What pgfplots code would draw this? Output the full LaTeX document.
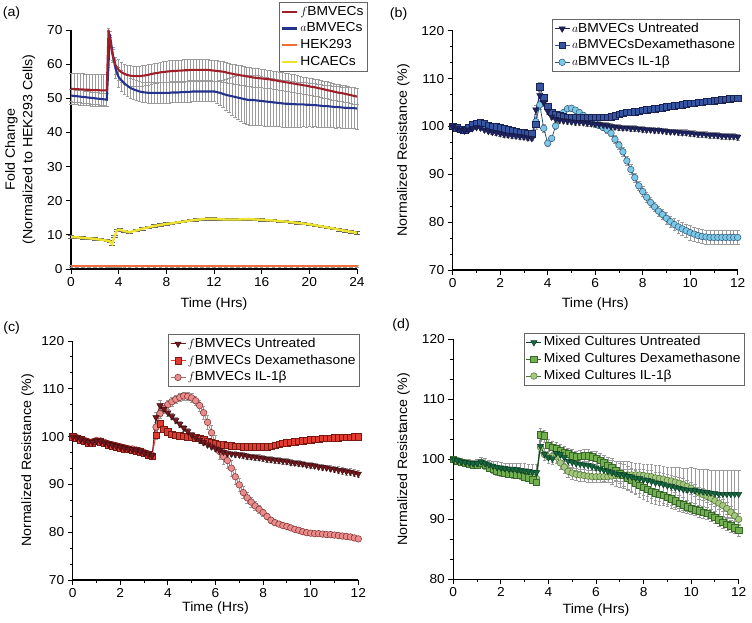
\documentclass[border=0pt]{standalone}
\usepackage{pgfplots}
\pgfplotsset{compat=1.18}
\usepackage{pgfplotstable}
\usepackage{fontspec}
\setmainfont{Liberation Sans}[FakeStretch=1.06]
\newcommand\fnt{\fontsize{13}{15}\selectfont}
\newcommand\lfnt{\fontsize{13.5}{15}\selectfont}
\newcommand\gfnt{\fontsize{13.1}{15}\selectfont}

\definecolor{fcol}{RGB}{160,30,40}
\definecolor{acol}{RGB}{35,50,140}
\definecolor{orng}{RGB}{240,110,60}
\definecolor{hcacol}{RGB}{238,226,50}
\definecolor{errg}{RGB}{155,155,155}
\definecolor{errd}{RGB}{95,95,95}
\definecolor{bU}{RGB}{30,35,100}\definecolor{bUd}{RGB}{20,22,60}
\definecolor{bD}{RGB}{55,85,160}\definecolor{bDd}{RGB}{25,35,85}
\definecolor{bI}{RGB}{125,200,230}\definecolor{bId}{RGB}{45,85,120}
\definecolor{cU}{RGB}{115,25,30}\definecolor{cUd}{RGB}{60,10,15}
\definecolor{cD}{RGB}{225,60,50}\definecolor{cDd}{RGB}{120,25,20}
\definecolor{cI}{RGB}{235,140,140}\definecolor{cId}{RGB}{120,45,45}
\definecolor{dU}{RGB}{20,105,65}\definecolor{dUd}{RGB}{10,60,35}
\definecolor{dD}{RGB}{115,175,80}\definecolor{dDd}{RGB}{55,105,40}
\definecolor{dI}{RGB}{165,200,125}\definecolor{dId}{RGB}{75,115,55}

\pgfplotstableread{
t f fe a ae
0 52.8 4.6 50.8 1.8
0.25 52.7 4.6 50.7 1.8
0.5 52.7 4.6 50.6 1.8
0.75 52.6 4.6 50.5 1.8
1 52.6 4.6 50.4 1.8
1.25 52.5 4.6 50.3 1.8
1.5 52.5 4.6 50.2 1.8
1.75 52.4 4.6 50.1 1.8
2 52.4 4.6 50.0 1.8
2.25 52.4 4.6 49.9 1.8
2.5 52.3 4.6 49.8 1.8
2.75 52.3 4.6 49.7 1.8
3 52.3 4.6 49.6 1.8
3.15 70.0 0.5 60.0 1.0
3.25 67.5 1.0 68.8 0.8
3.5 62.5 2.0 63.0 2.0
3.75 59.6 2.5 58.5 2.5
4 58.3 3.0 56.2 3.0
4.25 57.6 3.0 55.2 3.0
4.5 57.1 3.0 54.3 3.0
4.75 56.8 3.0 53.6 3.0
5 56.6 3.0 53.0 3.0
5.25 56.5 3.0 52.6 3.0
5.5 56.5 3.0 52.3 3.0
5.75 56.5 3.0 52.0 3.0
6 56.6 3.0 51.8 3.0
6.25 56.7 3.0 51.7 3.0
6.5 56.9 3.0 51.6 3.0
6.75 57.1 3.0 51.6 3.0
7 57.3 3.0 51.6 3.0
7.25 57.4 3.0 51.6 3.0
7.5 57.6 3.0 51.6 3.0
7.75 57.7 3.1 51.6 3.0
8 57.8 3.1 51.6 3.0
8.25 57.9 3.1 51.6 3.0
8.5 58.0 3.1 51.7 3.0
8.75 58.0 3.1 51.7 3.0
9 58.1 3.1 51.7 3.0
9.25 58.1 3.1 51.8 3.0
9.5 58.2 3.1 51.8 3.0
9.75 58.2 3.1 51.9 3.0
10 58.3 3.0 51.9 3.0
10.25 58.3 3.0 52.0 3.0
10.5 58.3 3.0 52.0 3.0
10.75 58.3 3.0 52.0 3.0
11 58.3 3.0 52.0 3.0
11.25 58.3 3.0 52.0 3.0
11.5 58.3 3.0 52.0 3.0
11.75 58.2 3.0 52.0 3.0
12 58.1 3.0 52.0 3.0
12.25 58.0 3.0 51.8 3.3
12.5 57.9 3.0 51.6 3.6
12.75 57.8 3.0 51.3 4.0
13 57.6 3.0 51.0 4.5
13.25 57.4 2.9 50.8 5.0
13.5 57.2 2.9 50.6 5.5
13.75 57.0 2.9 50.4 6.0
14 56.9 2.9 50.2 6.4
14.25 56.7 2.9 50.0 6.8
14.5 56.6 2.8 49.8 7.0
14.75 56.4 2.8 49.6 7.2
15 56.3 2.8 49.5 7.3
15.25 56.1 2.8 49.5 7.3
15.5 56.0 2.8 49.4 7.3
15.75 55.9 2.8 49.3 7.3
16 55.8 2.7 49.2 7.2
16.25 55.7 2.7 49.1 7.2
16.5 55.6 2.7 49.0 7.1
16.75 55.5 2.7 48.9 7.1
17 55.3 2.7 48.8 7.0
17.25 55.2 2.6 48.7 7.0
17.5 55.0 2.6 48.6 6.9
17.75 54.9 2.6 48.5 6.9
18 54.7 2.6 48.4 6.8
18.25 54.6 2.6 48.4 6.8
18.5 54.4 2.6 48.3 6.7
18.75 54.3 2.6 48.3 6.7
19 54.1 2.5 48.2 6.6
19.25 54.0 2.5 48.2 6.6
19.5 53.8 2.5 48.2 6.5
19.75 53.7 2.5 48.1 6.5
20 53.5 2.5 48.1 6.4
20.25 53.3 2.5 48.0 6.4
20.5 53.2 2.5 48.0 6.3
20.75 53.0 2.5 47.9 6.3
21 52.8 2.5 47.8 6.2
21.25 52.6 2.5 47.7 6.2
21.5 52.4 2.5 47.7 6.2
21.75 52.2 2.5 47.6 6.1
22 52.0 2.5 47.5 6.1
22.25 51.8 2.4 47.4 6.1
22.5 51.6 2.4 47.4 6.0
22.75 51.5 2.4 47.3 6.0
23 51.3 2.4 47.2 6.0
23.25 51.1 2.4 47.2 6.0
23.5 50.9 2.4 47.1 6.0
23.75 50.7 2.4 47.1 6.0
24 50.5 2.4 47.0 6.0
}\tA

\pgfplotstableread{
t y ye h he
0 9.4 0.35 0.8 0.2
0.5 9.3 0.35 0.8 0.2
1 9.1 0.35 0.8 0.2
1.5 9.0 0.35 0.8 0.2
2 8.8 0.35 0.8 0.2
2.5 8.6 0.35 0.8 0.2
3 8.3 0.35 0.8 0.2
3.25 8.1 0.35 0.8 0.2
3.45 7.3 0.35 0.8 0.2
3.65 9.5 0.35 0.8 0.2
3.85 11.3 0.35 0.8 0.2
4.1 11.5 0.35 0.8 0.2
4.5 11.1 0.35 0.8 0.2
4.9 10.8 0.35 0.8 0.2
5.5 11.3 0.35 0.8 0.2
6 11.8 0.35 0.8 0.2
6.5 12.2 0.35 0.8 0.2
7 12.6 0.35 0.8 0.2
7.5 12.9 0.35 0.8 0.2
8 13.2 0.35 0.8 0.2
8.5 13.4 0.35 0.8 0.2
9 13.7 0.35 0.8 0.2
9.5 13.9 0.35 0.8 0.2
10 14.2 0.35 0.8 0.2
10.5 14.4 0.35 0.8 0.2
11 14.6 0.35 0.8 0.2
11.5 14.7 0.35 0.8 0.2
12 14.7 0.35 0.8 0.2
12.5 14.6 0.35 0.8 0.2
13 14.5 0.35 0.8 0.2
13.5 14.5 0.35 0.8 0.2
14 14.5 0.35 0.8 0.2
14.5 14.6 0.35 0.8 0.2
15 14.6 0.35 0.8 0.2
15.5 14.5 0.35 0.8 0.2
16 14.4 0.35 0.8 0.2
16.5 14.3 0.35 0.8 0.2
17 14.2 0.35 0.8 0.2
17.5 14.0 0.35 0.8 0.2
18 13.9 0.35 0.8 0.2
18.5 13.7 0.35 0.8 0.2
19 13.5 0.35 0.8 0.2
19.5 13.3 0.35 0.8 0.2
20 13.1 0.35 0.8 0.2
20.5 12.8 0.35 0.8 0.2
21 12.5 0.35 0.8 0.2
21.5 12.2 0.35 0.8 0.2
22 11.9 0.35 0.8 0.2
22.5 11.5 0.35 0.8 0.2
23 11.2 0.35 0.8 0.2
23.5 10.9 0.35 0.8 0.2
24 10.6 0.35 0.8 0.2
}\tH

\pgfplotstableread{
t u ue d de i ie
0 100.0 0.3 100.0 0.3 100.0 0.3
0.167 99.6 0.4 99.7 0.4 99.7 0.4
0.333 99.2 0.4 99.4 0.4 99.3 0.4
0.5 99.1 0.4 99.2 0.4 99.1 0.4
0.667 99.3 0.5 99.7 0.5 99.4 0.5
0.833 99.6 0.5 100.4 0.5 99.9 0.5
1.0 99.8 0.5 100.7 0.6 100.2 0.5
1.167 99.7 0.5 100.8 0.6 100.2 0.5
1.333 99.3 0.5 100.6 0.6 99.9 0.5
1.5 99.0 0.5 100.2 0.6 99.5 0.5
1.667 98.8 0.5 100.0 0.6 99.3 0.5
1.833 98.7 0.5 99.9 0.6 99.2 0.5
2.0 98.5 0.5 99.7 0.6 99.0 0.5
2.167 98.3 0.5 99.5 0.6 98.9 0.5
2.333 98.2 0.5 99.3 0.6 98.8 0.5
2.5 98.1 0.5 99.2 0.6 98.7 0.5
2.667 98.0 0.5 99.0 0.6 98.6 0.5
2.833 97.9 0.5 98.8 0.6 98.4 0.5
3.0 97.8 0.5 98.7 0.6 98.3 0.5
3.167 97.6 0.5 98.6 0.6 98.1 0.5
3.333 97.5 0.5 98.5 0.6 98.0 0.5
3.5 103.5 1.0 100.5 1.0 101.0 1.0
3.667 106.5 1.0 108.3 1.0 104.5 1.0
3.833 105.0 0.8 106.0 0.8 99.6 0.8
4.0 103.2 0.7 104.2 0.7 96.5 0.7
4.167 102.0 0.6 103.0 0.6 97.5 0.6
4.333 101.5 0.6 102.5 0.6 100.1 0.6
4.5 101.3 0.6 102.2 0.6 101.8 0.6
4.667 101.2 0.6 102.0 0.6 102.9 0.6
4.833 101.1 0.6 101.9 0.6 103.7 0.6
5.0 101.0 0.6 101.9 0.6 103.8 0.6
5.167 100.9 0.6 101.9 0.6 103.4 0.6
5.333 100.9 0.6 101.9 0.6 102.9 0.6
5.5 100.8 0.6 101.9 0.6 102.3 0.6
5.667 100.7 0.6 101.9 0.6 101.7 0.6
5.833 100.6 0.6 101.9 0.6 101.1 0.6
6.0 100.5 0.6 101.9 0.6 100.6 0.6
6.167 100.4 0.6 101.9 0.6 100.2 0.6
6.333 100.3 0.6 101.9 0.6 99.8 0.6
6.5 100.2 0.6 101.9 0.6 99.3 0.7
6.667 100.0 0.6 102.0 0.6 98.6 0.7
6.833 99.9 0.6 102.2 0.6 97.3 0.8
7.0 99.8 0.6 102.5 0.6 96.1 0.8
7.167 99.7 0.6 102.7 0.6 94.7 0.9
7.333 99.7 0.6 102.9 0.6 92.8 0.9
7.5 99.6 0.6 103.0 0.6 91.0 1.0
7.667 99.6 0.6 103.1 0.6 89.3 1.0
7.833 99.5 0.6 103.2 0.6 87.6 1.0
8.0 99.4 0.6 103.4 0.6 86.4 1.0
8.167 99.3 0.6 103.5 0.6 85.2 1.0
8.333 99.3 0.6 103.6 0.6 84.1 1.0
8.5 99.2 0.6 103.7 0.6 83.2 1.0
8.667 99.2 0.6 103.8 0.6 82.3 1.1
8.833 99.1 0.6 103.9 0.6 81.6 1.1
9.0 99.0 0.6 104.1 0.6 80.8 1.2
9.167 98.9 0.6 104.2 0.6 80.1 1.2
9.333 98.9 0.6 104.3 0.6 79.5 1.3
9.5 98.8 0.6 104.4 0.6 79.0 1.3
9.667 98.7 0.6 104.5 0.6 78.6 1.4
9.833 98.7 0.6 104.7 0.6 78.2 1.4
10.0 98.6 0.6 104.8 0.6 77.8 1.5
10.167 98.5 0.6 104.9 0.6 77.5 1.5
10.333 98.4 0.6 105.0 0.6 77.2 1.5
10.5 98.4 0.6 105.1 0.6 77.0 1.5
10.667 98.3 0.6 105.2 0.6 76.9 1.5
10.833 98.2 0.6 105.3 0.6 76.8 1.5
11.0 98.2 0.6 105.4 0.6 76.8 1.5
11.167 98.1 0.6 105.5 0.6 76.8 1.5
11.333 98.0 0.6 105.6 0.6 76.8 1.5
11.5 98.0 0.6 105.7 0.6 76.8 1.5
11.667 97.9 0.6 105.8 0.6 76.8 1.5
11.833 97.9 0.6 105.9 0.6 76.8 1.5
12.0 97.8 0.6 105.9 0.6 76.8 1.5
}\tB

\pgfplotstableread{
t u ue d de i ie
0 100.0 0.3 100.0 0.3 100.0 0.3
0.167 99.7 0.3 99.6 0.3 99.8 0.3
0.333 99.4 0.3 99.3 0.3 99.5 0.3
0.5 99.1 0.3 99.0 0.3 99.2 0.3
0.667 98.8 0.3 98.7 0.3 98.9 0.3
0.833 98.8 0.3 98.7 0.3 98.9 0.3
1.0 99.1 0.3 99.0 0.3 99.2 0.3
1.167 99.0 0.3 98.9 0.3 99.1 0.3
1.333 98.7 0.3 98.6 0.3 98.8 0.3
1.5 98.4 0.3 98.3 0.3 98.5 0.3
1.667 98.2 0.3 98.1 0.3 98.3 0.3
1.833 98.0 0.3 97.9 0.3 98.1 0.3
2.0 97.8 0.3 97.7 0.3 97.9 0.3
2.167 97.6 0.3 97.5 0.3 97.7 0.3
2.333 97.4 0.3 97.3 0.3 97.5 0.3
2.5 97.3 0.3 97.2 0.3 97.4 0.3
2.667 97.1 0.3 97.0 0.3 97.2 0.3
2.833 96.9 0.3 96.8 0.3 97.0 0.3
3.0 96.6 0.3 96.5 0.3 96.7 0.3
3.167 96.3 0.3 96.2 0.3 96.4 0.3
3.333 96.0 0.3 95.9 0.3 96.1 0.3
3.5 104.0 1.0 100.3 0.8 102.0 1.0
3.667 106.5 1.0 102.7 0.6 104.8 1.0
3.833 105.8 0.8 101.6 0.5 105.9 1.0
4.0 105.0 0.7 101.0 0.4 106.7 1.0
4.167 104.2 0.6 100.5 0.4 107.3 0.9
4.333 103.4 0.6 100.3 0.4 107.8 0.9
4.5 102.6 0.6 100.2 0.4 108.2 0.8
4.667 101.8 0.6 100.1 0.4 108.5 0.8
4.833 101.1 0.6 100.0 0.4 108.4 0.8
5.0 100.4 0.6 99.9 0.4 108.1 0.9
5.167 99.8 0.6 99.8 0.4 107.5 1.0
5.333 99.3 0.6 99.6 0.4 106.5 1.2
5.5 98.8 0.6 99.3 0.4 105.0 1.3
5.667 98.3 0.6 99.0 0.4 103.0 1.4
5.833 97.9 0.6 98.8 0.4 100.8 1.5
6.0 97.5 0.6 98.6 0.4 98.6 1.6
6.167 97.1 0.6 98.4 0.4 96.9 1.6
6.333 96.8 0.6 98.3 0.4 95.8 1.6
6.5 96.5 0.6 98.2 0.4 95.0 1.6
6.667 96.4 0.6 98.1 0.4 93.4 1.6
6.833 96.3 0.6 98.0 0.4 91.6 1.5
7.0 96.2 0.6 98.0 0.4 89.9 1.4
7.167 96.1 0.6 97.9 0.4 88.3 1.3
7.333 95.9 0.6 97.9 0.4 87.2 1.2
7.5 95.8 0.6 97.9 0.4 86.3 1.1
7.667 95.7 0.6 97.9 0.4 85.5 1.0
7.833 95.6 0.6 97.9 0.4 84.8 0.9
8.0 95.5 0.6 97.9 0.4 84.1 0.8
8.167 95.3 0.6 97.9 0.4 83.3 0.7
8.333 95.2 0.6 98.0 0.4 82.5 0.6
8.5 95.1 0.6 98.2 0.4 82.0 0.5
8.667 95.0 0.6 98.4 0.4 81.7 0.5
8.833 94.9 0.6 98.6 0.4 81.4 0.4
9.0 94.8 0.6 98.7 0.4 81.2 0.4
9.167 94.6 0.6 98.8 0.4 80.9 0.4
9.333 94.5 0.6 98.9 0.4 80.6 0.4
9.5 94.4 0.6 99.0 0.4 80.4 0.4
9.667 94.3 0.6 99.1 0.4 80.1 0.4
9.833 94.1 0.6 99.2 0.4 79.9 0.4
10.0 94.0 0.6 99.3 0.4 79.8 0.4
10.167 93.9 0.6 99.4 0.4 79.7 0.4
10.333 93.7 0.6 99.5 0.4 79.7 0.4
10.5 93.6 0.6 99.6 0.4 79.6 0.4
10.667 93.5 0.6 99.7 0.4 79.5 0.4
10.833 93.3 0.6 99.7 0.4 79.5 0.4
11.0 93.2 0.6 99.8 0.4 79.4 0.4
11.167 93.0 0.7 99.8 0.4 79.3 0.4
11.333 92.9 0.7 99.9 0.4 79.2 0.4
11.5 92.7 0.7 99.9 0.4 79.1 0.4
11.667 92.6 0.7 99.9 0.4 79.0 0.4
11.833 92.4 0.7 100.0 0.4 78.8 0.4
12.0 92.2 0.8 100.0 0.4 78.6 0.4
}\tC

\pgfplotstableread{
t u ue d de i ie
0 100.0 0.3 100.0 0.3 100.0 0.3
0.167 99.8 0.4 99.7 0.4 99.8 0.4
0.333 99.6 0.5 99.5 0.5 99.6 0.5
0.5 99.5 0.5 99.3 0.5 99.4 0.5
0.667 99.4 0.6 99.2 0.6 99.3 0.6
0.833 99.3 0.6 99.1 0.6 99.2 0.6
1.0 99.3 0.7 99.1 0.6 99.2 0.6
1.167 99.6 0.7 99.3 0.6 99.4 0.6
1.333 99.3 0.8 99.0 0.6 99.1 0.6
1.5 99.1 0.8 98.6 0.6 98.8 0.6
1.667 98.9 0.8 98.3 0.6 98.6 0.6
1.833 98.7 0.9 98.0 0.6 98.4 0.6
2.0 98.6 0.9 97.8 0.6 98.2 0.6
2.167 98.5 0.9 97.7 0.6 98.1 0.6
2.333 98.4 1.0 97.6 0.6 98.0 0.6
2.5 98.4 1.0 97.5 0.6 97.9 0.6
2.667 98.3 1.1 97.4 0.6 97.8 0.6
2.833 98.2 1.1 97.3 0.6 97.7 0.6
3.0 98.1 1.2 97.1 0.6 97.5 0.6
3.167 98.0 1.2 96.9 0.6 97.3 0.6
3.333 97.9 1.3 96.6 0.6 97.1 0.6
3.5 97.8 1.4 96.2 0.6 96.8 0.6
3.667 102.2 1.0 104.1 1.0 102.0 1.0
3.833 100.9 1.0 103.9 1.0 100.8 1.0
4.0 100.3 1.0 102.3 1.0 100.4 1.0
4.167 100.1 1.0 102.0 1.0 100.5 1.0
4.333 101.0 1.0 101.8 1.0 100.4 1.0
4.5 100.8 1.0 101.5 1.0 99.4 1.0
4.667 100.3 1.0 101.1 1.0 98.7 1.0
4.833 99.7 1.0 100.9 1.0 98.0 1.0
5.0 99.5 1.0 100.6 1.0 97.7 1.0
5.167 99.3 1.1 100.4 1.0 97.5 1.0
5.333 99.2 1.2 100.5 1.0 97.4 1.0
5.5 99.1 1.3 100.6 1.0 97.3 1.0
5.667 99.0 1.4 100.6 1.0 97.2 1.0
5.833 98.8 1.5 100.4 1.0 97.1 1.0
6.0 98.6 1.6 100.2 1.1 97.1 1.0
6.167 98.4 1.7 99.8 1.2 97.1 1.0
6.333 98.2 1.8 99.4 1.3 97.1 1.0
6.5 98.0 1.9 99.0 1.4 97.1 1.0
6.667 97.8 2.0 98.6 1.5 97.2 1.0
6.833 97.6 2.1 98.1 1.6 97.3 1.0
7.0 97.5 2.2 97.7 1.7 97.3 1.0
7.167 97.4 2.3 97.3 1.8 97.4 1.0
7.333 97.2 2.4 96.9 1.9 97.4 1.0
7.5 97.1 2.4 96.5 2.0 97.4 1.0
7.667 96.9 2.5 96.1 2.0 97.4 1.0
7.833 96.8 2.5 95.7 2.0 97.4 1.0
8.0 96.6 2.6 95.3 2.0 97.3 1.0
8.167 96.5 2.7 95.0 2.0 97.2 1.0
8.333 96.3 2.8 94.7 2.0 97.1 1.0
8.5 96.1 2.9 94.4 1.9 96.9 1.0
8.667 96.0 3.0 94.2 1.8 96.8 1.0
8.833 95.8 3.1 94.0 1.7 96.7 1.0
9.0 95.6 3.1 93.7 1.6 96.5 1.0
9.167 95.5 3.2 93.4 1.5 96.4 1.0
9.333 95.3 3.3 93.1 1.4 96.2 1.0
9.5 95.2 3.4 92.7 1.3 96.0 1.0
9.667 95.0 3.5 92.4 1.2 95.8 1.0
9.833 94.9 3.6 92.1 1.1 95.5 1.0
10.0 94.9 3.7 91.8 1.0 95.2 1.0
10.167 94.8 3.7 91.6 1.0 94.8 1.0
10.333 94.7 3.7 91.4 1.0 94.4 1.0
10.5 94.6 3.8 91.2 1.0 94.1 1.0
10.667 94.5 3.8 91.0 1.0 93.8 1.0
10.833 94.4 3.8 90.7 1.0 93.5 1.0
11.0 94.3 3.8 90.3 1.0 93.1 1.0
11.167 94.2 3.9 89.9 1.0 92.7 1.0
11.333 94.2 3.9 89.5 1.0 92.3 1.0
11.5 94.2 3.9 89.2 1.0 91.8 1.0
11.667 94.2 3.9 88.9 1.0 91.2 1.0
11.833 94.2 3.9 88.6 1.0 90.6 1.0
12.0 94.2 3.9 88.2 1.0 90.0 1.0
}\tD

\pgfplotsset{
  panel/.style={
    scale only axis, anchor=south west, clip=false,
    axis lines=left,
    axis line style={-, line width=1.1pt, black},
    tick align=outside,
    major tick length=5bp, minor tick length=3bp,
    every tick/.style={black, line width=0.9pt},
    tick label style={font=\fnt},
    label style={font=\lfnt},
    /pgf/number format/assume math mode=true,
    legend cell align=left,
    legend style={draw=black!60, line width=0.7pt, font=\gfnt, fill=white,
      inner xsep=2bp, inner ysep=1bp, row sep=0bp,
      nodes={inner ysep=1.5bp, inner xsep=2bp, text height=10.3bp, text depth=3.5bp}},
    xlabel={Time (Hrs)},
    ylabel={Normalized Resistance (\%)},
  },
  rpanel/.style={panel, xmin=0, xmax=12, xtick={0,2,...,12}, minor x tick num=1, minor y tick num=2,
    legend image code/.code={\draw[mark repeat=2, mark phase=2, ##1] plot coordinates {(0bp,0bp) (7.5bp,0bp) (15bp,0bp)};}},
  errs/.style={forget plot, mark=none, draw=none,
    error bars/.cd, y dir=both, y explicit,
    error bar style={draw=errg, line width=0.55pt},
    error mark options={rotate=90, draw=errg, mark size=1.8bp, line width=0.55pt}},
  errsd/.style={forget plot, mark=none, draw=none,
    error bars/.cd, y dir=both, y explicit,
    error bar style={draw=errd, line width=0.6pt},
    error mark options={rotate=90, draw=errd, mark size=3.2bp, line width=0.8pt}},
  tri/.style={line width=0.8pt, mark=triangle*, mark size=3.6bp},
  sq/.style={line width=0.8pt, mark=square*, mark size=3.2bp},
  ci/.style={line width=0.8pt, mark=*, mark size=3.3bp},
}

\begin{document}
\begin{tikzpicture}
\useasboundingbox (0,0) rectangle (752bp,623bp);

% (a)
\begin{axis}[panel, at={(71bp,354bp)}, width=286bp, height=239bp,
  xmin=0, xmax=24, ymin=0, ymax=70, xtick={0,4,...,24}, ytick={0,10,...,70},
  ylabel={Fold Change\\(Normalized to HEK293 Cells)},
  ylabel style={align=center, font=\fontsize{13.5}{17.5}\selectfont, at={(axis description cs:-0.178,0.5)}, anchor=center},
  xlabel style={at={(axis description cs:0.5,-0.146)}, anchor=center},
  legend image code/.code={\draw[#1] (0bp,0bp) -- (15bp,0bp);},
  legend style={at={(axis description cs:1.038,1.117)}, anchor=north east}]
\addplot[errs] table[x=t, y=f, y error=fe] {\tA};
\addplot[errs] table[x=t, y=a, y error=ae] {\tA};
\addplot[errsd] table[x=t, y=y, y error=ye] {\tH};
\addplot[errs] table[x=t, y=h, y error=he] {\tH};
\addplot[forget plot, draw=orng, line width=2pt, mark=none] table[x=t, y=h] {\tH};
\addplot[forget plot, draw=hcacol, line width=2.4pt, mark=none] table[x=t, y=y] {\tH};
\addplot[forget plot, draw=acol, line width=2.1pt, mark=none] table[x=t, y=a] {\tA};
\addplot[forget plot, draw=fcol, line width=2.1pt, mark=none] table[x=t, y=f] {\tA};
\addlegendimage{draw=fcol, line width=2.2pt}
\addlegendentry{$f$BMVECs}
\addlegendimage{draw=acol, line width=2.2pt}
\addlegendentry{$a$BMVECs}
\addlegendimage{draw=orng, line width=2.2pt}
\addlegendentry{HEK293}
\addlegendimage{draw=hcacol, line width=2.4pt}
\addlegendentry{HCAECs}
\node[font=\lfnt] at (axis description cs:-0.208,1.073) {(a)};
\end{axis}

% (b)
\begin{axis}[rpanel, at={(452.7bp,353bp)}, width=285bp, height=239.3bp,
  ymin=70, ymax=120, ytick={70,80,...,120},
  ylabel style={at={(axis description cs:-0.173,0.5)}, anchor=center},
  xlabel style={at={(axis description cs:0.5,-0.142)}, anchor=center},
  reverse legend,
  legend style={at={(axis description cs:1.006,1.049)}, anchor=north east}]
\addplot[errs] table[x=t, y=i, y error=ie] {\tB};
\addplot[errs] table[x=t, y=d, y error=de] {\tB};
\addplot[errs] table[x=t, y=u, y error=ue] {\tB};
\addplot[ci, color=bId, mark options={fill=bI, draw=bId, line width=0.5pt}] table[x=t, y=i] {\tB};
\addlegendentry{$a$BMVECs IL-1β}
\addplot[sq, color=bD, mark options={fill=bD, draw=bDd, line width=0.5pt}] table[x=t, y=d] {\tB};
\addlegendentry{$a$BMVECsDexamethasone}
\addplot[tri, color=bU, mark options={rotate=180, fill=bU, draw=bUd, line width=0.5pt}] table[x=t, y=u] {\tB};
\addlegendentry{$a$BMVECs Untreated}
\node[font=\lfnt] at (axis description cs:-0.19,1.07) {(b)};
\end{axis}

% (c)
\begin{axis}[rpanel, at={(72.7bp,43bp)}, width=285.6bp, height=239bp,
  ymin=70, ymax=120, ytick={70,80,...,120},
  ylabel style={at={(axis description cs:-0.158,0.5)}, anchor=center},
  xlabel style={at={(axis description cs:0.5,-0.119)}, anchor=center},
  reverse legend,
  legend style={at={(axis description cs:1.006,1.029)}, anchor=north east}]
\addplot[errs] table[x=t, y=i, y error=ie] {\tC};
\addplot[errs] table[x=t, y=d, y error=de] {\tC};
\addplot[errs] table[x=t, y=u, y error=ue] {\tC};
\addplot[ci, color=cI!80!black, mark options={fill=cI, draw=cId, line width=0.5pt}] table[x=t, y=i] {\tC};
\addlegendentry{$f$BMVECs IL-1β}
\addplot[sq, color=cD, mark options={fill=cD, draw=cDd, line width=0.5pt}] table[x=t, y=d] {\tC};
\addlegendentry{$f$BMVECs Dexamethasone}
\addplot[tri, color=cU, mark options={rotate=180, fill=cU, draw=cUd, line width=0.5pt}] table[x=t, y=u] {\tC};
\addlegendentry{$f$BMVECs Untreated}
\node[font=\lfnt] at (axis description cs:-0.214,1.056) {(c)};
\end{axis}

% (d)
\begin{axis}[rpanel, at={(453.3bp,43.7bp)}, width=285.4bp, height=240bp,
  ymin=80, ymax=120, ytick={80,90,...,120},
  ylabel style={at={(axis description cs:-0.174,0.5)}, anchor=center},
  xlabel style={at={(axis description cs:0.5,-0.129)}, anchor=center},
  reverse legend,
  legend style={at={(axis description cs:1.022,1.0275)}, anchor=north east}]
\addplot[errs] table[x=t, y=i, y error=ie] {\tD};
\addplot[errs] table[x=t, y=d, y error=de] {\tD};
\addplot[errs] table[x=t, y=u, y error=ue] {\tD};
\addplot[ci, color=dId, mark options={fill=dI, draw=dId, line width=0.5pt}] table[x=t, y=i] {\tD};
\addlegendentry{Mixed Cultures IL-1β}
\addplot[sq, color=dDd, mark options={fill=dD, draw=dDd, line width=0.5pt}] table[x=t, y=d] {\tD};
\addlegendentry{Mixed Cultures Dexamethasone}
\addplot[tri, color=dUd, mark options={rotate=180, fill=dU, draw=dUd, line width=0.5pt}] table[x=t, y=u] {\tD};
\addlegendentry{Mixed Cultures Untreated}
\node[font=\lfnt] at (axis description cs:-0.183,1.06) {(d)};
\end{axis}
\end{tikzpicture}
\end{document}
